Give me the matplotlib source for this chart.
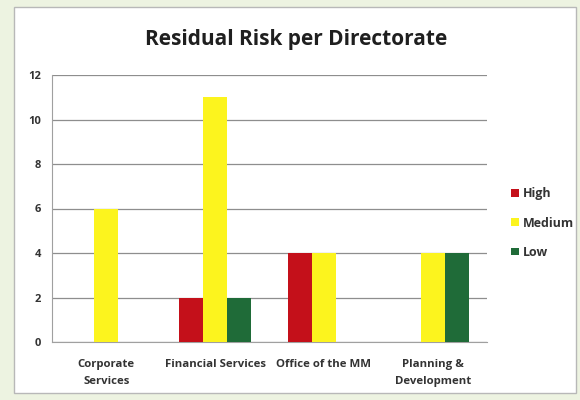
import numpy as np
import matplotlib
matplotlib.use("Agg")
import matplotlib.pyplot as plt
from matplotlib.patches import Rectangle

categories = ["Corporate\nServices", "Financial Services", "Office of the MM", "Planning &\nDevelopment"]
high = [0, 2, 4, 0]
medium = [6, 11, 4, 4]
low = [0, 2, 0, 4]
series_names = ["High", "Medium", "Low"]
series_colors = ["#C4101A", "#FCF41E", "#1F6B38"]
y_ticks = [0, 2, 4, 6, 8, 10, 12]

plt.rcParams["font.family"] = ["Open Sans", "DejaVu Sans"]

fig = plt.figure(figsize=(5.8, 4.0), dpi=100)
fig.patch.set_facecolor("#EDF3E1")

# white chart panel with a thin grey frame, kept behind the axes
panel = Rectangle((14 / 580, 7 / 400), 562 / 580, 386 / 400, transform=fig.transFigure,
                  facecolor="white", edgecolor="#B8B8B8", linewidth=1.0, zorder=-10)
fig.patches.append(panel)

ax = fig.add_axes([52 / 580, 58 / 400, 435 / 580, 267 / 400])
ax.set_facecolor("white")

x = np.arange(len(categories))
bar_w = 1 / 4.5
for i, (vals, name, col) in enumerate(zip([high, medium, low], series_names, series_colors)):
    ax.bar(x + (i - 1) * bar_w, vals, width=bar_w, color=col, label=name, zorder=3)

ax.set_xlim(-0.5, len(categories) - 0.5)
ax.set_ylim(0, 12)
ax.set_yticks(y_ticks)
ax.set_yticklabels([str(v) for v in y_ticks], fontsize=8, fontweight="bold", color="#333333")
ax.set_xticks(x)
ax.set_xticklabels(categories, fontsize=8.2, fontweight="bold", color="#333333", linespacing=1.85)
ax.tick_params(axis="y", length=0, pad=8)
ax.tick_params(axis="x", length=0, pad=12)
ax.yaxis.grid(True, color="#8E8E8E", linewidth=0.9, zorder=1)
for side in ["top", "right"]:
    ax.spines[side].set_visible(False)
ax.spines["left"].set_color("#A0A0A0")
ax.spines["bottom"].set_color("#A0A0A0")

fig.text(296 / 580, 1 - 45 / 400, "Residual Risk per Directorate", ha="center", va="baseline",
         fontsize=15, fontweight="bold", color="#1F1F1F")

leg = ax.legend(loc="center left", bbox_to_anchor=(1.03, 0.445), frameon=False,
                fontsize=9, handlelength=0.6, handleheight=0.6, handletextpad=0.3,
                labelspacing=1.3)
for t in leg.get_texts():
    t.set_color("#333333")
    t.set_fontweight("bold")

fig.savefig("out.png", dpi=100, facecolor=fig.get_facecolor())
